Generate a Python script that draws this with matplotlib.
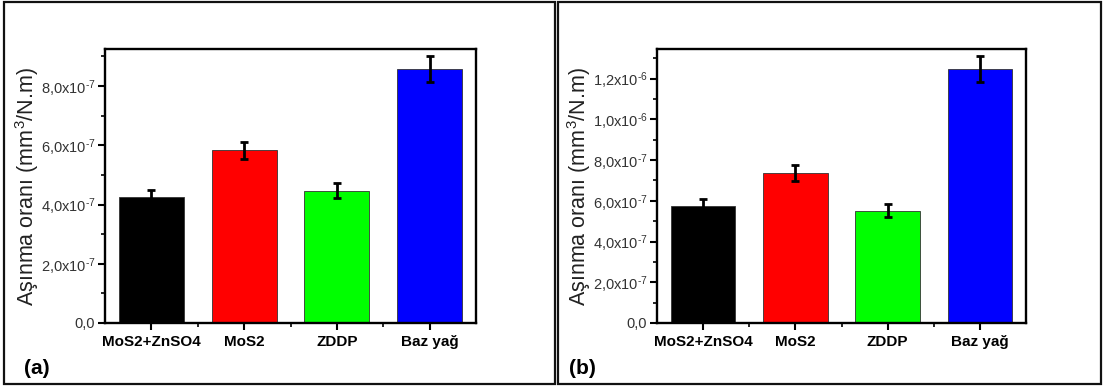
import numpy as np
import matplotlib
matplotlib.use('Agg')
import matplotlib.pyplot as plt
from matplotlib.ticker import MultipleLocator, FuncFormatter, FixedLocator
from matplotlib.patches import Rectangle

plt.rcParams['font.family'] = ['Liberation Sans', 'DejaVu Sans']
plt.rcParams['mathtext.fontset'] = 'custom'
plt.rcParams['mathtext.rm'] = 'Liberation Sans'
plt.rcParams['mathtext.it'] = 'Liberation Sans:italic'
plt.rcParams['mathtext.bf'] = 'Liberation Sans:bold'
plt.rcParams['mathtext.default'] = 'regular'

# veriler
categories = ['MoS2+ZnSO4', 'MoS2', 'ZDDP', 'Baz yağ']
colors = ['#000000', '#ff0000', '#00ff00', '#0000ff']

wear_a = [4.27e-7, 5.83e-7, 4.46e-7, 8.57e-7]
err_a = [0.22e-7, 0.29e-7, 0.25e-7, 0.44e-7]

wear_b = [5.75e-7, 7.37e-7, 5.52e-7, 12.46e-7]
err_b = [0.33e-7, 0.38e-7, 0.30e-7, 0.63e-7]

panel_labels = ['(a)', '(b)']
ylims = [9.25e-7, 1.345e-6]


def sci_fmt(v, pos):
    if v < -1e-12:
        return ''
    if abs(v) < 1e-12:
        return '0,0'
    e = int(np.floor(np.log10(v) + 1e-9))
    m = v / 10**e
    return ('%.1f' % m).replace('.', ',') + 'x10$^{\u2010%d}$' % (-e)


W, H = 1103, 387
fig = plt.figure(figsize=(W / 100, H / 100), dpi=100)

# panel çerçeveleri
for x0, x1 in [(4, 555), (558, 1101)]:
    fig.patches.append(Rectangle((x0 / W, 3 / H), (x1 - x0) / W, 382 / H,
                                 transform=fig.transFigure, fill=False,
                                 edgecolor='#111111', linewidth=1.6))

axes_px = [(105, 476), (657, 1026)]
label_x = [24, 569]
x = np.arange(1, len(categories) + 1)

for i, (vals, errs) in enumerate([(wear_a, err_a), (wear_b, err_b)]):
    l, r = axes_px[i]
    ax = fig.add_axes([l / W, (H - 323) / H, (r - l) / W, 274 / H])
    ax.bar(x, vals, width=0.7, color=colors, edgecolor='#333333', linewidth=0.6, zorder=2)
    ax.errorbar(x, vals, yerr=errs, fmt='none', ecolor='black', elinewidth=2,
                capsize=3, capthick=2, zorder=3)
    ax.set_xlim(0.5, 4.5)
    ax.set_ylim(0, ylims[i])
    ax.set_xticks(x)
    ax.set_xticklabels(categories, fontsize=11, fontweight='bold')
    ax.xaxis.set_minor_locator(FixedLocator([1.5, 2.5, 3.5]))
    ax.yaxis.set_major_locator(MultipleLocator(2e-7))
    ax.yaxis.set_minor_locator(MultipleLocator(1e-7))
    ax.yaxis.set_major_formatter(FuncFormatter(sci_fmt))
    ax.tick_params(axis='y', labelsize=10.5, colors='#222222', labelcolor='#333333', pad=2)
    ax.tick_params(which='major', direction='out', length=5, width=1.5, color='black')
    ax.tick_params(which='minor', direction='out', length=3, width=1.2, color='black')
    for s in ax.spines.values():
        s.set_linewidth(1.7)
    ax.set_ylabel('Aşınma oranı (mm$^3$/N.m)', fontsize=15.5, color='#222222')
    ax.yaxis.set_label_coords(-64 / (r - l), 0.5)
    fig.text(label_x[i] / W, (H - 368) / H, panel_labels[i], fontsize=15,
             fontweight='bold', ha='left', va='center')

fig.savefig('out.png', dpi=100)
